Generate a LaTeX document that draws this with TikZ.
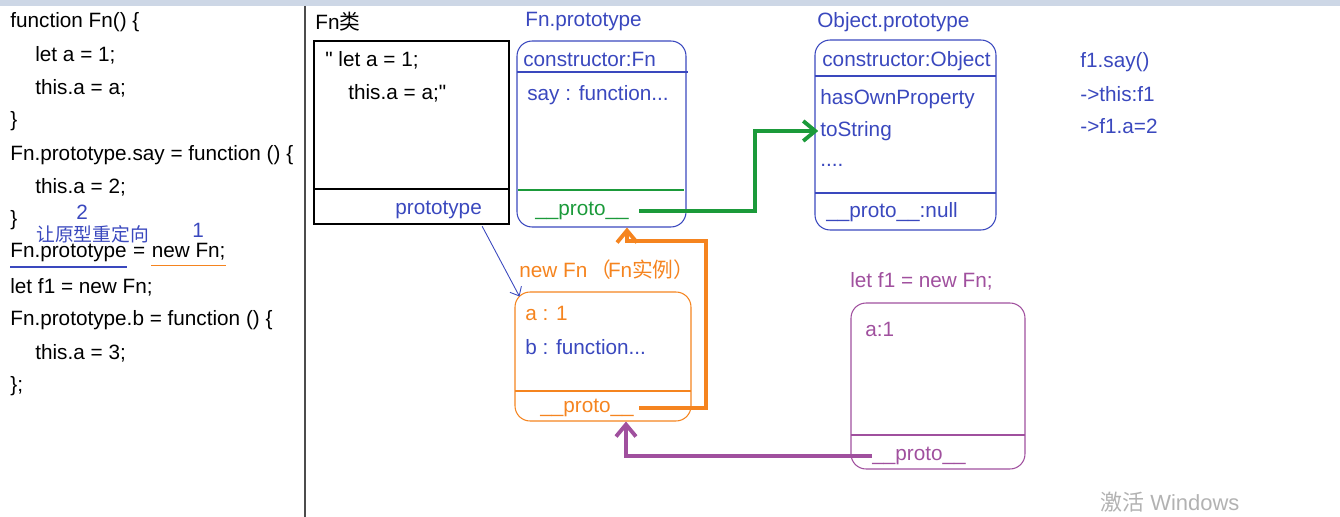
\documentclass[tikz,border=0pt]{standalone}
\usepackage{fontspec}
\setmainfont{Liberation Sans}[Ligatures=TeXOff]
\newfontfamily\cjk{Noto Sans CJK SC}
\usetikzlibrary{arrows.meta}
\definecolor{jsblue}{HTML}{3A48BE}
\definecolor{jsorange}{HTML}{F5841F}
\definecolor{jsgreen}{HTML}{1B9A3A}
\definecolor{jspurple}{HTML}{A0509E}
\definecolor{topband}{HTML}{CDD7E6}

\begin{document}
\begin{tikzpicture}[
    x=0.02cm, y=-0.02cm,
    font=\fontsize{11.8}{14}\selectfont,
    code/.style={anchor=west, inner sep=0pt},
    btxt/.style={code, text=jsblue},
    otxt/.style={code, text=jsorange},
    gtxt/.style={code, text=jsgreen},
    ptxt/.style={code, text=jspurple},
    memo/.style={draw, line width=0.6pt, inner sep=0pt},
    rmemo/.style={memo, rounded corners=0.3cm},
    link/.style={line width=2.2pt, -{Straight Barb[length=2.4mm, width=4mm]}},
]
\useasboundingbox (0,0) rectangle (1340,517);
\fill[topband] (0,0) rectangle (1340,6);
\draw[black!70, line width=1.2pt] (305,6) -- (305,517);

% ---- source code ----
\node[code] (l1) at (10,22) {function Fn() \{};
\node[code] (l2) at (35,55) {let a = 1;};
\node[code] (l3) at (35,88) {this.a = a;};
\node[code] (l4) at (10,121) {\}};
\node[code] (l5) at (10,155) {Fn.prototype.say = function () \{};
\node[code] (l6) at (35,187) {this.a = 2;};
\node[code] (l7) at (10,220) {\}};
\node[code] (protoref) at (10,253) {Fn.prototype};
\node[code, anchor=base west] (eqs) at (protoref.base east) {\ =\ \null};
\node[code, anchor=base west] (newfn) at (eqs.base east) {new Fn;};
\node[code] (l9) at (10,287) {let f1 = new Fn;};
\node[code] (l10) at (10,320) {Fn.prototype.b = function () \{};
\node[code] (l11) at (35,353) {this.a = 3;};
\node[code] (l12) at (10,386) {\};};
\draw[jsblue, line width=0.9pt] ([yshift=-2.5pt]protoref.south west) -- ([yshift=-2.5pt]protoref.south east);
\draw[jsorange, line width=0.9pt] ([yshift=-2.5pt]newfn.south west) -- ([yshift=-2.5pt]newfn.south east);
% step numbers
\node[btxt] (n2) at (76,212) {2};
\node[btxt] (redir) at (36,234) {\fontsize{10.7}{12}\selectfont\cjk 让原型重定向};
\node[btxt] (n1) at (192,230) {1};

% ---- Fn class ----
\node[code] (fclabel) at (315,22) {Fn{\cjk 类}};
\node[memo, minimum width=3.9cm, minimum height=3.66cm] (fncls) at (411.5,132.5) {};
\draw[line width=0.6pt] (314,189) -- (509,189);
\node[code] (fcb1) at (325,60) {" let a = 1;};
\node[code] (fcb2) at (348,93) {this.a = a;"};
\node[btxt] (fcproto) at (395,210) {prototype};

% ---- Fn.prototype ----
\node[btxt] (fplabel) at (525,22) {Fn.prototype};
\node[rmemo, jsblue, minimum width=3.38cm, minimum height=3.72cm] (fnp) at (601.5,134) {};
\draw[jsblue, line width=0.6pt] (517,72) -- (688,72);
\draw[jsgreen, line width=0.6pt] (518,190) -- (684,190);
\node[btxt] (fpcons) at (523,59) {constructor:Fn};
\node[btxt] (fpsay) at (527,95) {say : function...};
\node[gtxt] (fpproto) at (535,211) {\_\_proto\_\_};

% ---- Object.prototype ----
\node[btxt] (oplabel) at (817,22) {Object.prototype};
\node[rmemo, jsblue, minimum width=3.62cm, minimum height=3.8cm] (objp) at (905.5,135) {};
\draw[jsblue, line width=0.6pt] (815,76) -- (996,76);
\draw[jsblue, line width=0.6pt] (815,193) -- (996,193);
\node[btxt] (opcons) at (822,61) {constructor:Object};
\node[btxt] (ophas) at (820,99) {hasOwnProperty};
\node[btxt] (opstr) at (820,131) {toString};
\node[btxt] (opdots) at (820,165) {....};
\node[btxt] (opproto) at (826,212) {\_\_proto\_\_:null};

% ---- call note ----
\node[btxt] (say1) at (1080,62) {f1.say()};
\node[btxt] (say2) at (1080,94) {->this:f1};
\node[btxt] (say3) at (1080,126) {->f1.a=2};

% ---- new Fn instance ----
\node[otxt] (nlabel) at (519,270)
    {new Fn\hspace{2pt}{\cjk （}\hspace{-2pt}Fn{\cjk 实例）}};
\node[rmemo, jsorange, minimum width=3.52cm, minimum height=2.58cm] (nfn) at (603,356.5) {};
\draw[jsorange, line width=0.6pt] (515,391) -- (691,391);
\node[otxt] (na) at (525,313) {a : 1};
\node[btxt] (nb) at (525,347) {b : function...};
\node[otxt] (nproto) at (540,408) {\_\_proto\_\_};

% ---- f1 ----
\node[ptxt] (f1label) at (850,281) {let f1 = new Fn;};
\node[rmemo, jspurple, minimum width=3.48cm, minimum height=3.32cm] (f1) at (938,386) {};
\draw[jspurple, line width=0.6pt] (851,435) -- (1025,435);
\node[ptxt] (f1a) at (865,329) {a:1};
\node[ptxt] (f1proto) at (872,456) {\_\_proto\_\_};

% ---- links ----
\coordinate (gx) at (755,0);
\draw[link, jsgreen] ([xshift=0.2cm]fpproto.east) -| (gx |- opstr.west) -- ([xshift=-1pt]opstr.west);
\coordinate (oturn) at (706,241);
\coordinate (otop) at (627,241);
\draw[link, jsorange] ([xshift=0.1cm]nproto.east) -| (oturn) -- (otop) -- (otop |- fnp.south);
\draw[link, jspurple] (f1proto.west) -| ([xshift=0.46cm]nfn.south);
\draw[jsblue, line width=0.5pt, -{Straight Barb[length=1.5mm, width=2.6mm]}]
    ([yshift=-4pt]fcproto.south east) -- ([xshift=0.1cm, yshift=-0.1cm]nfn.north west);

\node[code, text=black!30, font=\fontsize{12.5}{15}\selectfont] (wm) at (1100,502) {{\cjk 激活} Windows};
\end{tikzpicture}
\end{document}
